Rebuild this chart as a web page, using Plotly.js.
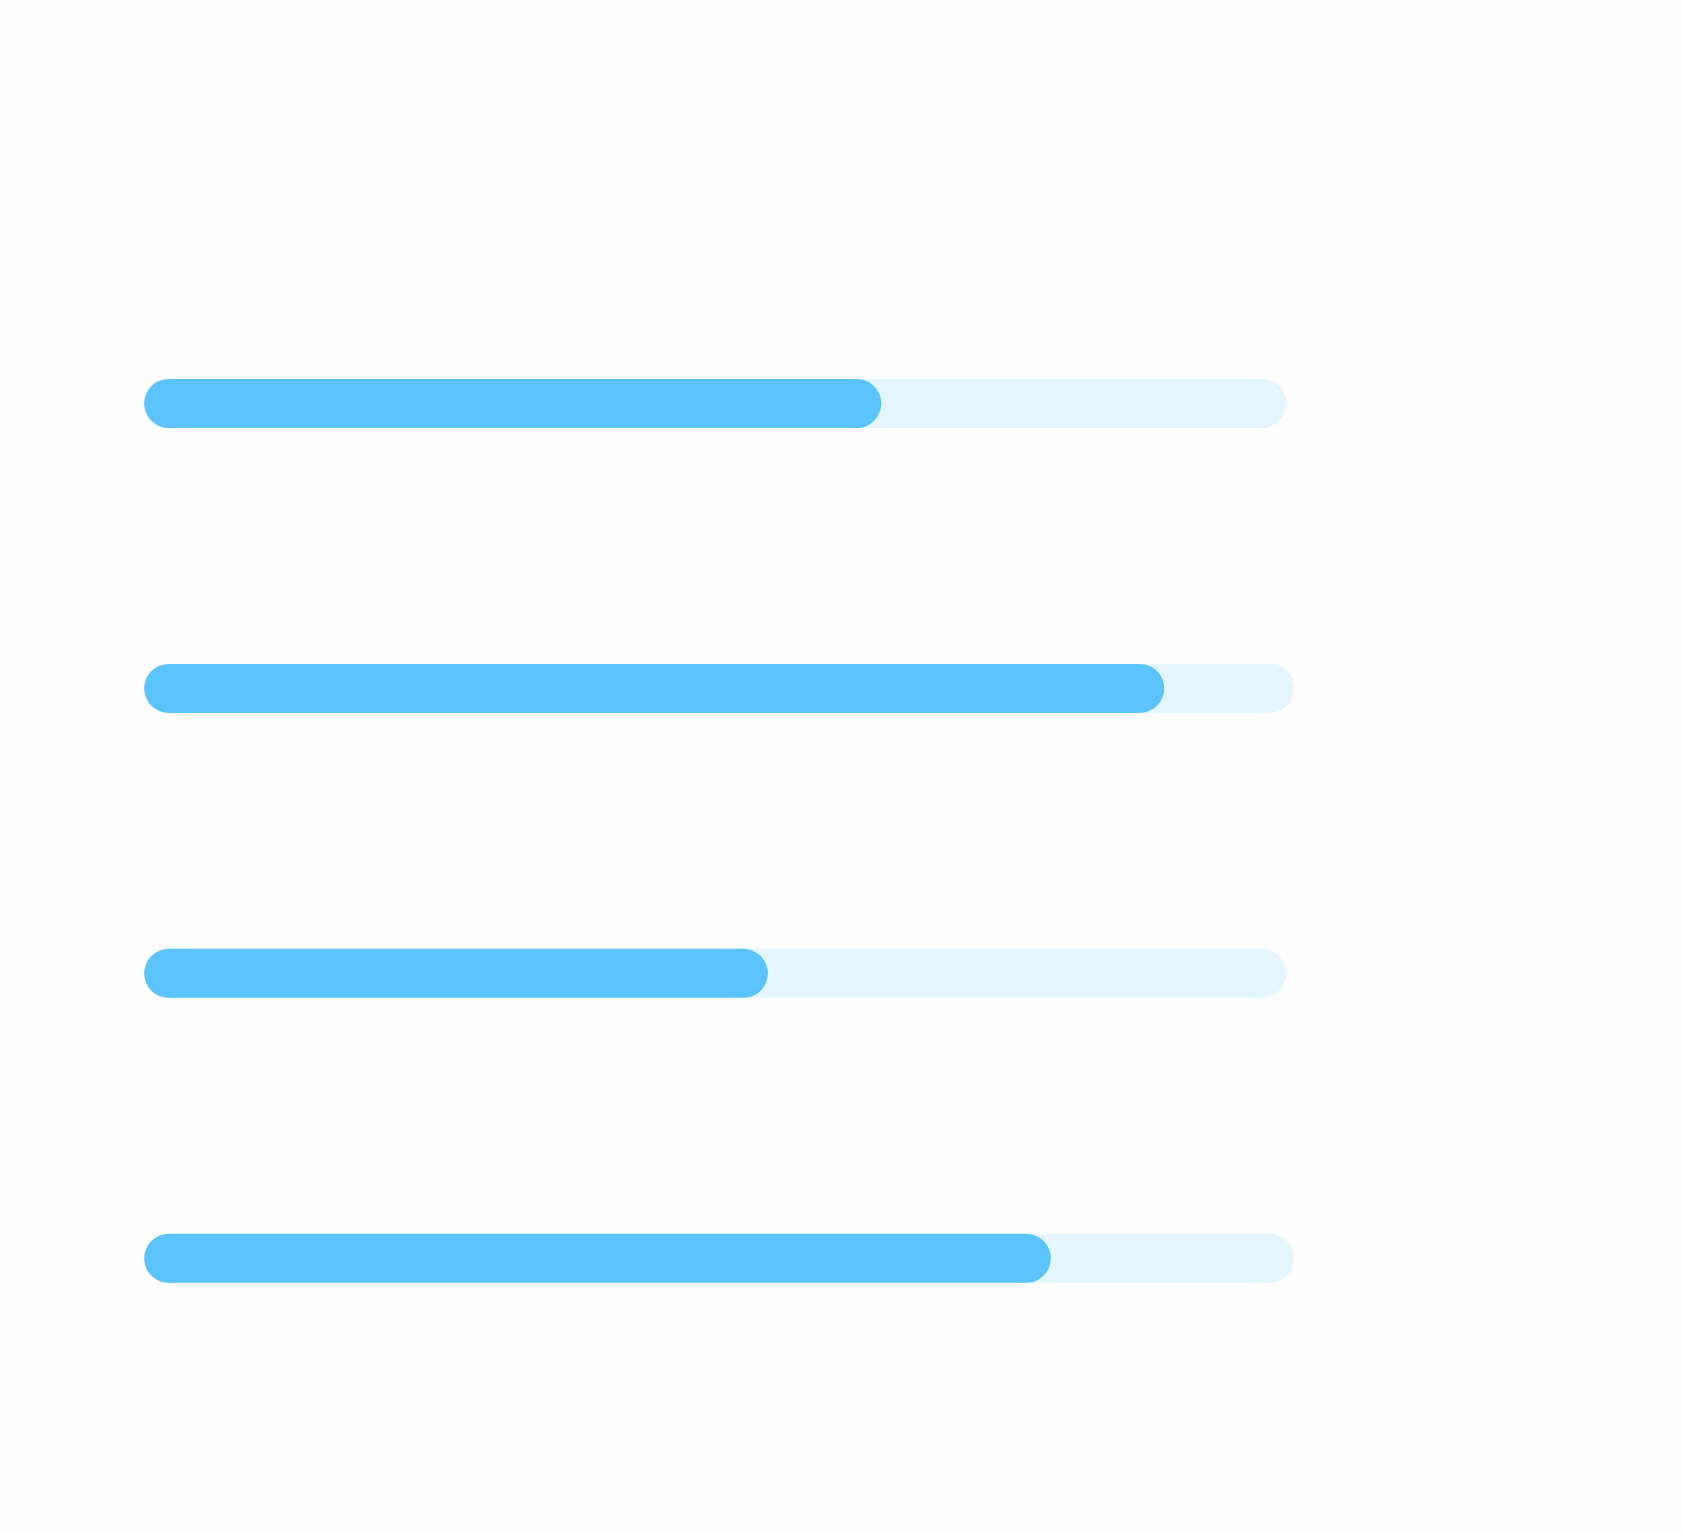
<!DOCTYPE html>
<html>
<head>
<meta charset="utf-8">
<script src="https://cdn.plot.ly/plotly-3.0.1.min.js"></script>
<style>html,body{margin:0;padding:0;background:#fefefe;}#chart{width:1682px;height:1533px;}</style>
</head>
<body>
<div id="chart"></div>
<script>
// Data
var categories = ["Item 1", "Item 2", "Item 3", "Item 4"];
var targetValues = [99.3, 100, 99.3, 100];
var actualValues = [62.5, 88.2, 52.2, 77.9];

var barColor = "#5BC4FE";
var trackColor = "#E4F5FE";
var thickness = 0.17197;  // bar thickness in category units (~49 px)
var capSize = 49;         // px diameter of round end caps

var zeros = categories.map(function(){ return 0; });

function barTrace(vals, color) {
  return {
    type: "bar", orientation: "h",
    y: categories, x: vals, base: 0,
    width: thickness,
    marker: { color: color, line: { width: 0 } },
    hoverinfo: "skip", showlegend: false
  };
}
function capTrace(xs, color) {
  return {
    type: "scatter", mode: "markers",
    y: categories, x: xs,
    marker: { symbol: "circle", size: capSize, color: color, line: { width: 0 } },
    hoverinfo: "skip", showlegend: false, cliponaxis: false
  };
}

var traces = [
  barTrace(targetValues, trackColor),
  barTrace(actualValues, barColor),
  capTrace(targetValues, trackColor),
  capTrace(zeros, barColor),
  capTrace(actualValues, barColor)
];

var layout = {
  width: 1682, height: 1533,
  margin: { l: 0, r: 0, t: 0, b: 0, pad: 0 },
  paper_bgcolor: "#fefefe", plot_bgcolor: "#fefefe",
  barmode: "overlay",
  showlegend: false,
  xaxis: { range: [-15.318, 137.45], visible: false, showgrid: false, zeroline: false, fixedrange: true },
  yaxis: { type: "category", range: [3.9642, -1.4161], visible: false, showgrid: false, zeroline: false, fixedrange: true },
  hovermode: false
};

Plotly.newPlot("chart", traces, layout, { displayModeBar: false, staticPlot: true });
</script>
</body>
</html>
